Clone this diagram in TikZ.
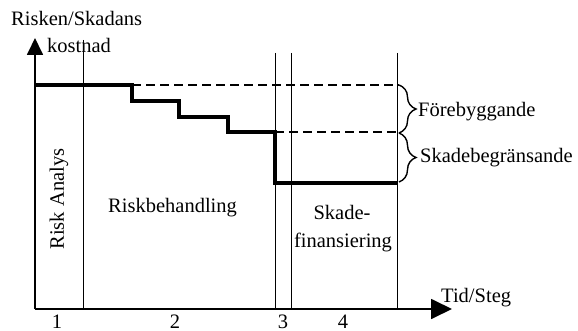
\documentclass[tikz,border=0pt]{standalone}
\usepackage{fontspec}
\setmainfont{Liberation Serif}
\usetikzlibrary{arrows.meta,decorations.pathreplacing}
\begin{document}
\begin{tikzpicture}[x=1pt,y=-1pt,
  lbl/.style={inner sep=0pt,font=\fontsize{20.5}{24}\selectfont},
  axis/.style={line width=1.8pt},
  yarrow/.style={-{Triangle[length=17pt,width=16pt]}},
  xarrow/.style={-{Triangle[length=21pt,width=20pt]}},
  divider/.style={line width=1pt},
  cost/.style={line width=4.5pt,line join=miter},
  level/.style={line width=1.5pt,dash pattern=on 9pt off 5pt},
  bracket/.style={line width=1.4pt,decorate,decoration={brace,amplitude=17pt}}]
\useasboundingbox (0,0) rectangle (578,331);
% axes
\coordinate (O) at (35,309);
\coordinate (ytip) at (35,38);
\coordinate (xtip) at (452,309);
\draw[axis,yarrow] (O) -- (ytip);
\draw[axis,xarrow] (O) -- (xtip);
% dividers
\coordinate (d1t) at (83,40);   \coordinate (d1b) at (83,309);
\coordinate (d2t) at (275,53);  \coordinate (d2b) at (275,309);
\coordinate (d3t) at (291,53);  \coordinate (d3b) at (291,309);
\coordinate (d4t) at (397,53);  \coordinate (d4b) at (397,309);
\draw[divider] (d1t) -- (d1b);
\draw[divider] (d2t) -- (d2b);
\draw[divider] (d3t) -- (d3b);
\draw[divider] (d4t) -- (d4b);
% dashed levels
\coordinate (l1a) at (132,85);  \coordinate (l1b) at (399,85);
\coordinate (l2a) at (275,132); \coordinate (l2b) at (399,132);
\draw[level] (l1a) -- (l1b);
\draw[level] (l2a) -- (l2b);
% cost step line
\coordinate (s0) at (35,85);
\coordinate (s9) at (397,183);
\draw[cost] (s0) -- (132,85) -- (132,101) -- (179,101) -- (179,117) -- (228,117)
  -- (228,132) -- (275,132) -- (275,183) -- (s9);
% braces
\coordinate (b1) at (399,85); \coordinate (b2) at (399,133); \coordinate (b3) at (399,182);
\draw[bracket] (b1) -- (b2);
\draw[bracket] (b2) -- (b3);
% labels
\node[lbl,anchor=base west] (ylab1) at (11,26) {Risken/Skadans};
\node[lbl,anchor=base west] (ylab2) at (47,53) {kostnad};
\node[lbl,anchor=base west] (xlab) at (441,302) {Tid/Steg};
\node[lbl,anchor=base west] (fore) at (418,117) {Förebyggande};
\node[lbl,anchor=base west] (skbeg) at (420,163) {Skadebegränsande};
\node[lbl,rotate=90] (ra) at (59,199) {Risk Analys};
\node[lbl,anchor=base west] (rb) at (108,212) {Riskbehandling};
\node[lbl,anchor=base] (sk1) at (342,219) {Skade-};
\node[lbl,anchor=base] (sk2) at (343,247) {finansiering};
\node[lbl,anchor=base] (n1) at (57,328) {1};
\node[lbl,anchor=base] (n2) at (175,328) {2};
\node[lbl,anchor=base] (n3) at (283,328) {3};
\node[lbl,anchor=base] (n4) at (343,328) {4};
\end{tikzpicture}
\end{document}
